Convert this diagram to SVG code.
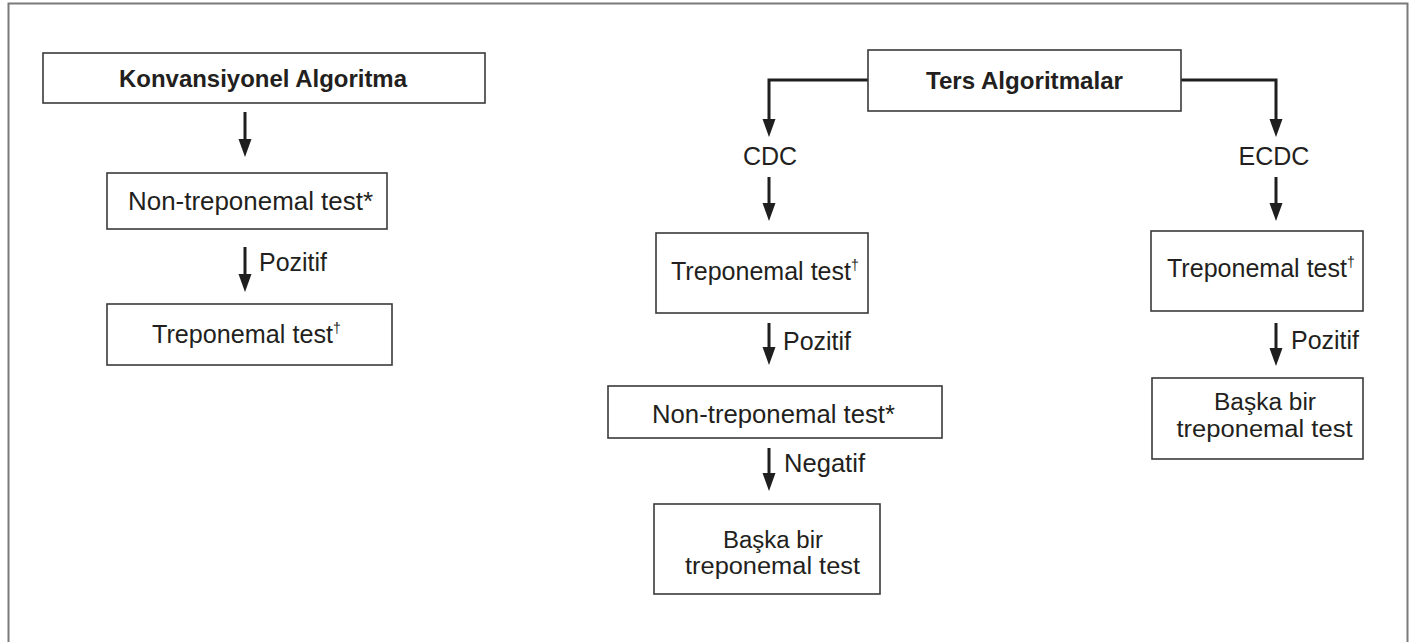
<svg xmlns="http://www.w3.org/2000/svg" width="1417" height="642" viewBox="0 0 1417 642">
<defs>
<marker id="ah" markerUnits="userSpaceOnUse" markerWidth="18" markerHeight="14" refX="8" refY="6.5" orient="auto" viewBox="0 0 18 13">
<path d="M0,0 L18,6.5 L0,13 Z" fill="#1f1f1f"/>
</marker>
<style>
.box{fill:#fff;stroke:#3a3a3a;stroke-width:1.6}
.t{font-family:"Liberation Sans",Arial,sans-serif;font-size:25px;fill:#231f20}
.m{font-family:"Liberation Sans",Arial,sans-serif;font-size:23px;fill:#231f20}
.b{font-family:"Liberation Sans",Arial,sans-serif;font-size:24px;font-weight:bold;fill:#231f20}
.c{fill:none;stroke:#1f1f1f;stroke-width:3;marker-end:url(#ah)}
.sup{font-size:14px;fill:#231f20}
</style>
</defs>
<rect x="0" y="0" width="1417" height="642" fill="#fff"/>
<rect x="8.5" y="3.5" width="1399" height="660" fill="none" stroke="#7a7a7a" stroke-width="2"/>

<g id="connectors">
<path class="c" d="M245,112 V147"/>
<path class="c" d="M245,247 V282"/>
<path class="c" d="M868,80 H769 V127"/>
<path class="c" d="M769,177 V211"/>
<path class="c" d="M769,323 V355"/>
<path class="c" d="M769,448 V481"/>
<path class="c" d="M1181,80 H1276 V127"/>
<path class="c" d="M1276,177 V211"/>
<path class="c" d="M1276,323 V356"/>
</g>

<g id="lbl-left-pozitif"><text class="t" x="259" y="271" textLength="68" lengthAdjust="spacingAndGlyphs">Pozitif</text></g>
<g id="lbl-cdc-pozitif"><text class="t" x="783" y="350" textLength="68" lengthAdjust="spacingAndGlyphs">Pozitif</text></g>
<g id="lbl-negatif"><text class="t" x="784" y="472" textLength="81" lengthAdjust="spacingAndGlyphs">Negatif</text></g>
<g id="lbl-ecdc-pozitif"><text class="t" x="1291" y="349" textLength="68" lengthAdjust="spacingAndGlyphs">Pozitif</text></g>

<g id="konv">
<rect class="box" x="43" y="53" width="442" height="50"/>
<text class="b" x="119" y="87" textLength="288" lengthAdjust="spacingAndGlyphs">Konvansiyonel Algoritma</text>
</g>
<g id="konv-nontrep">
<rect class="box" x="107" y="173" width="280" height="56"/>
<text class="t" x="128" y="210" textLength="245" lengthAdjust="spacingAndGlyphs">Non-treponemal test*</text>
</g>
<g id="konv-trep">
<rect class="box" x="107" y="304" width="285" height="61"/>
<text class="t" x="152" y="343"><tspan textLength="181" lengthAdjust="spacingAndGlyphs">Treponemal test</tspan><tspan class="sup" dy="-10">†</tspan></text>
</g>

<g id="ters">
<rect class="box" x="868" y="50" width="313" height="61"/>
<text class="b" x="926" y="89" textLength="197" lengthAdjust="spacingAndGlyphs">Ters Algoritmalar</text>
</g>
<g id="cdc"><text class="t" x="770" y="165" text-anchor="middle" font-size="23">CDC</text></g>
<g id="ecdc"><text class="t" x="1274" y="165" text-anchor="middle" font-size="23">ECDC</text></g>

<g id="cdc-trep">
<rect class="box" x="656" y="233" width="212" height="80"/>
<text class="t" x="671" y="280"><tspan textLength="180" lengthAdjust="spacingAndGlyphs">Treponemal test</tspan><tspan class="sup" dy="-10">†</tspan></text>
</g>
<g id="cdc-nontrep">
<rect class="box" x="608" y="386" width="334" height="52"/>
<text class="t" x="652" y="423" textLength="243" lengthAdjust="spacingAndGlyphs">Non-treponemal test*</text>
</g>
<g id="cdc-baska">
<rect class="box" x="654" y="504" width="226" height="90"/>
<text class="m" x="773" y="548" text-anchor="middle" textLength="100" lengthAdjust="spacingAndGlyphs">Başka bir</text>
<text class="m" x="772.5" y="574" text-anchor="middle" textLength="175" lengthAdjust="spacingAndGlyphs">treponemal test</text>
</g>

<g id="ecdc-trep">
<rect class="box" x="1151" y="231" width="212" height="80"/>
<text class="t" x="1167" y="277"><tspan textLength="180" lengthAdjust="spacingAndGlyphs">Treponemal test</tspan><tspan class="sup" dy="-10">†</tspan></text>
</g>
<g id="ecdc-baska">
<rect class="box" x="1152" y="378" width="211" height="81"/>
<text class="m" x="1265" y="410" text-anchor="middle" textLength="102" lengthAdjust="spacingAndGlyphs">Başka bir</text>
<text class="m" x="1264.5" y="437" text-anchor="middle" textLength="176" lengthAdjust="spacingAndGlyphs">treponemal test</text>
</g>
</svg>
